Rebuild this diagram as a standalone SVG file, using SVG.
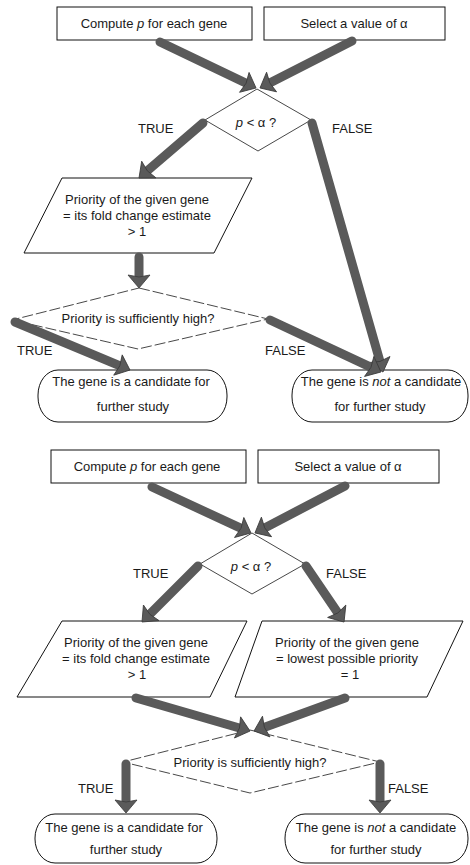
<svg xmlns="http://www.w3.org/2000/svg" width="470" height="865" viewBox="0 0 470 865">
<style>
  .bg{fill:#fff}
  .box{fill:#fff;stroke:#111;stroke-width:1}
  .dia{fill:#fff;stroke:#333;stroke-width:0.9}
  .dash{fill:#fff;stroke:#333;stroke-width:0.9;stroke-dasharray:11 3}
  .t{font-family:"Liberation Sans",Arial,sans-serif;font-size:13px;fill:#1a1a1a;text-anchor:middle}
  .lbl{font-family:"Liberation Sans",Arial,sans-serif;font-size:13px;fill:#1a1a1a}
  .ar{fill:none;stroke:#5a5a5a;stroke-width:9;stroke-linecap:round;marker-end:url(#ah)}
</style>
<defs>
  <marker id="ah" markerUnits="userSpaceOnUse" markerWidth="14" markerHeight="24" refX="0" refY="0" orient="auto" overflow="visible">
    <path d="M12,0 L-1,-11 L1,0 L-1,11 Z" fill="#5a5a5a" stroke="#3a3a3a" stroke-width="0.8" stroke-linejoin="round"/>
  </marker>
</defs>
<rect class="bg" x="0" y="0" width="470" height="865"/>

<!-- Top diagram -->
<g id="top-compute"><rect class="box" x="57" y="7" width="195" height="33"/><text class="t" x="154" y="28">Compute <tspan font-style="italic">p</tspan> for each gene</text></g>
<g id="top-select"><rect class="box" x="264" y="7" width="181" height="33"/><text class="t" x="354" y="28">Select a value of α</text></g>
<g id="top-test"><polygon class="dia" points="257,89 311,120 258,151 205,120"/><text class="t" x="256" y="127"><tspan font-style="italic">p</tspan> &lt; α ?</text></g>
<g id="top-priority"><polygon class="box" points="62,178 252,178 214,253 24,253"/><text class="t" x="137" y="204">Priority of the given gene</text><text class="t" x="137" y="220">= its fold change estimate</text><text class="t" x="137" y="236">&gt; 1</text></g>
<g id="top-high"><polygon class="dash" points="139,288 268,319 138,349 12,320"/><text class="t" x="138" y="323">Priority is sufficiently high?</text></g>
<g id="top-yes"><rect class="box" x="38" y="370" width="189" height="52" rx="20" ry="25"/><text class="t" x="131" y="386">The gene is a candidate for</text><text class="t" x="133" y="411">further study</text></g>
<g id="top-no"><rect class="box" x="292" y="370" width="176" height="52" rx="20" ry="25"/><text class="t" x="381" y="386">The gene is <tspan font-style="italic">not</tspan> a candidate</text><text class="t" x="380" y="411">for further study</text></g>
<g id="top-labels">
  <text class="lbl" x="138" y="133">TRUE</text>
  <text class="lbl" x="332" y="133">FALSE</text>
  <text class="lbl" x="17" y="355">TRUE</text>
  <text class="lbl" x="265" y="355">FALSE</text>
</g>

<!-- Bottom diagram -->
<g id="bot-compute"><rect class="box" x="51" y="450" width="195" height="33"/><text class="t" x="147" y="471">Compute <tspan font-style="italic">p</tspan> for each gene</text></g>
<g id="bot-select"><rect class="box" x="258" y="450" width="181" height="33"/><text class="t" x="348" y="471">Select a value of α</text></g>
<g id="bot-test"><polygon class="dia" points="252,533 305,564 252,594 200,564"/><text class="t" x="251" y="571"><tspan font-style="italic">p</tspan> &lt; α ?</text></g>
<g id="bot-priority-true"><polygon class="box" points="62,621 247,621 210,697 17,697"/><text class="t" x="136" y="647">Priority of the given gene</text><text class="t" x="136" y="663">= its fold change estimate</text><text class="t" x="137" y="679">&gt; 1</text></g>
<g id="bot-priority-false"><polygon class="box" points="262,621 463,621 427,697 235,697"/><text class="t" x="347" y="647">Priority of the given gene</text><text class="t" x="347" y="663">= lowest possible priority</text><text class="t" x="350" y="679">= 1</text></g>
<g id="bot-high"><polygon class="dash" points="250,730 380,762 250,793 123,762"/><text class="t" x="250" y="767">Priority is sufficiently high?</text></g>
<g id="bot-yes"><rect class="box" x="35" y="814" width="182" height="49" rx="20" ry="24"/><text class="t" x="124" y="832">The gene is a candidate for</text><text class="t" x="126" y="854">further study</text></g>
<g id="bot-no"><rect class="box" x="285" y="814" width="183" height="49" rx="20" ry="24"/><text class="t" x="376" y="832">The gene is <tspan font-style="italic">not</tspan> a candidate</text><text class="t" x="376" y="854">for further study</text></g>
<g id="bot-labels">
  <text class="lbl" x="133" y="578">TRUE</text>
  <text class="lbl" x="326" y="578">FALSE</text>
  <text class="lbl" x="78" y="793">TRUE</text>
  <text class="lbl" x="388" y="793">FALSE</text>
</g>

<g id="connectors">
  <path class="ar" d="M160,42 L245.2,82.8"/>
  <path class="ar" d="M352,41 L270.7,82.5"/>
  <path class="ar" d="M203,123 L148.1,170.2"/>
  <path class="ar" d="M312,123 L379.7,360.5"/>
  <path class="ar" d="M139,257 L139,276"/>
  <path class="ar" d="M15,322 L118.9,365.4"/>
  <path class="ar" d="M270,320 L370.1,366.9"/>

  <path class="ar" d="M152,487 L240.1,527.9"/>
  <path class="ar" d="M345,486 L265.6,527.4"/>
  <path class="ar" d="M198,566 L150.5,613.5"/>
  <path class="ar" d="M306,566 L337.3,612.1"/>
  <path class="ar" d="M136,698 L238.5,727.7"/>
  <path class="ar" d="M345,698 L265.3,726.9"/>
  <path class="ar" d="M126,764 L126,801"/>
  <path class="ar" d="M380,764 L380,801"/>
</g>
</svg>
